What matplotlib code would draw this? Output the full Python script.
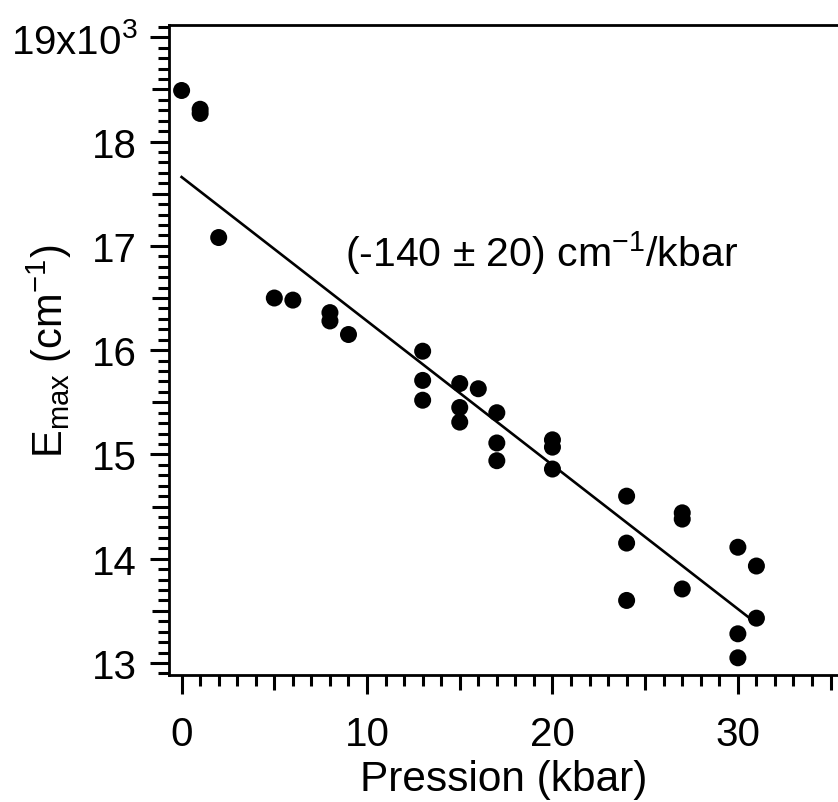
import numpy as np
import matplotlib
matplotlib.use("Agg")
import matplotlib.pyplot as plt
from matplotlib.ticker import MultipleLocator, FuncFormatter

plt.rcParams['font.family'] = ['Liberation Sans', 'DejaVu Sans']
plt.rcParams['mathtext.fontset'] = 'custom'
plt.rcParams['mathtext.rm'] = 'Liberation Sans'
plt.rcParams['mathtext.it'] = 'Liberation Sans:italic'
plt.rcParams['mathtext.bf'] = 'Liberation Sans:bold'
plt.rcParams['mathtext.default'] = 'regular'

# pression (kbar) et E_max (x10^3 cm-1)
pression = [0, 1, 1, 2, 5, 6, 8, 8, 9,
            13, 13, 13, 15, 15, 15, 16, 17, 17, 17,
            20, 20, 20, 24, 24, 24, 27, 27, 27,
            30, 30, 30, 31, 31]
emax = [18.49, 18.31, 18.27, 17.08, 16.50, 16.48, 16.36, 16.28, 16.15,
        15.99, 15.71, 15.52, 15.68, 15.45, 15.31, 15.63, 15.40, 15.11, 14.94,
        15.14, 15.07, 14.86, 14.60, 14.15, 13.60, 14.44, 14.38, 13.71,
        14.11, 13.28, 13.05, 13.93, 13.43]

# droite d'ajustement
fit_x = [0, 31]
fit_y = [17.66, 13.38]

fit_label = r"(-140 $\pm$ 20) cm$^{-1}$/kbar"

fig = plt.figure(figsize=(8.38, 8.03), dpi=100)
ax = fig.add_axes([169 / 838, 127 / 803, 669 / 838, 650 / 803])

ax.plot(fit_x, fit_y, color='black', linewidth=1.9, zorder=2)
ax.scatter(pression, emax, s=150, color='black', edgecolors='none', zorder=3)

ax.set_xlim(-0.68, 35.4)
ax.set_ylim(12.885, 19.118)

ax.spines['right'].set_visible(False)
for sp in ['left', 'bottom', 'top']:
    ax.spines[sp].set_linewidth(2)

ax.xaxis.set_major_locator(MultipleLocator(5))
ax.xaxis.set_minor_locator(MultipleLocator(1))
ax.yaxis.set_major_locator(MultipleLocator(0.5))
ax.yaxis.set_minor_locator(MultipleLocator(0.1))


def fmt_x(v, pos):
    if abs(v % 10) < 1e-6:
        return "%d" % round(v)
    return ""


def fmt_y(v, pos):
    if abs(v - round(v)) > 1e-6:
        return ""
    if round(v) == 19:
        return r"19x10$^{3}$"
    return "%d" % round(v)


ax.xaxis.set_major_formatter(FuncFormatter(fmt_x))
ax.yaxis.set_major_formatter(FuncFormatter(fmt_y))

ax.tick_params(which='both', direction='out', width=2.2, top=False, right=False,
               labelsize=29)
ax.tick_params(axis='x', which='major', length=14, pad=15)
ax.tick_params(axis='y', which='major', length=14, pad=9)
ax.tick_params(which='minor', length=8)

# ticks intermédiaires (x5 et x.5) un peu plus courts
ax.figure.canvas.draw()
for t, v in zip(ax.xaxis.get_major_ticks(), ax.xaxis.get_majorticklocs()):
    if abs(v % 10) > 1e-6:
        t.tick1line.set_markersize(11)
for t, v in zip(ax.yaxis.get_major_ticks(), ax.yaxis.get_majorticklocs()):
    if abs(v - round(v)) > 1e-6:
        t.tick1line.set_markersize(12)

ax.set_xlabel("Pression (kbar)", fontsize=30.5, labelpad=4)
ax.set_ylabel(r"E$_{max}$ (cm$^{-1}$)", fontsize=30)
ax.yaxis.set_label_coords(-0.142, 0.5)

ax.text(8.8, 16.81, fit_label, fontsize=29.5, ha='left', va='baseline')

fig.savefig("out.png", dpi=100)
